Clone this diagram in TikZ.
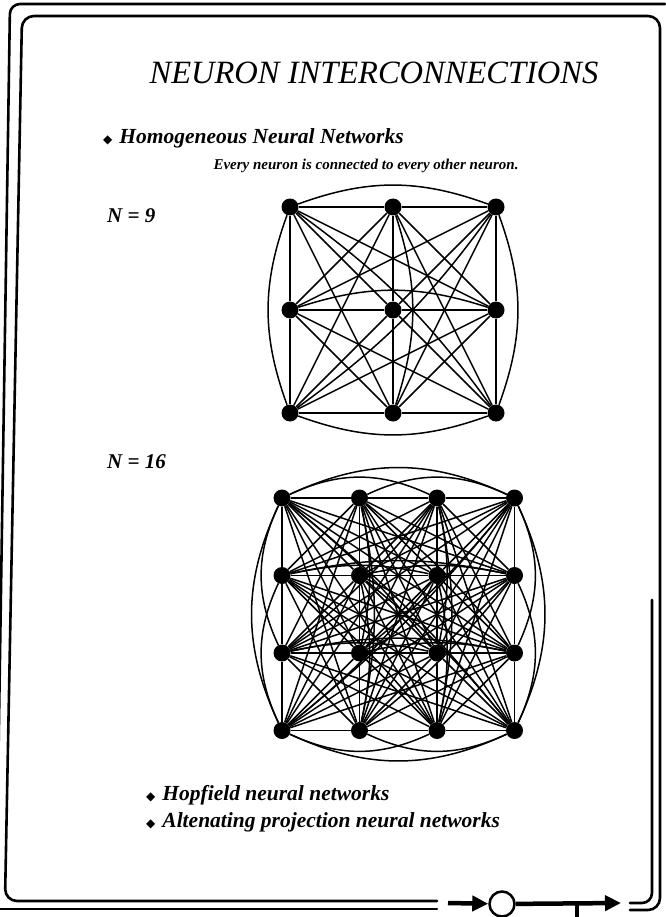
\documentclass[tikz,border=0pt]{standalone}
\usepackage{fontspec}
\setmainfont{Liberation Serif}
\newfontfamily\bulletfont{DejaVu Sans}
\usetikzlibrary{arrows.meta}

\tikzset{
  neuron/.style={circle, fill=black, inner sep=0pt, minimum size=17pt},
  synapse/.style={line width=1.5pt, draw=black},
  framepath/.style={line width=2.6pt, draw=black, line cap=round},
  headline/.style={font=\fontsize{32.5}{36}\selectfont\itshape},
  pointtext/.style={anchor=west, inner sep=0pt, font=\fontsize{21.5}{24}\selectfont\bfseries\itshape},
  subtext/.style={inner sep=0pt, font=\fontsize{15}{17}\selectfont\bfseries\itshape},
  sizetext/.style={anchor=west, inner sep=0pt, font=\fontsize{21}{24}\selectfont\bfseries\itshape},
  bus/.style={line width=4.5pt, -{Triangle[length=16pt,width=15pt]}},
  ring/.style={circle, draw=black, line width=2.5pt, fill=white, inner sep=0pt, minimum size=25pt}
}

\newcommand{\bul}{{\bulletfont\fontsize{12}{12}\selectfont ◆}\hspace{7pt}}

% fully connected grid of neurons
% #1 prefix, #2 grid size, #3/#4 top-left neuron, #5 spacing, #6 rim bend, #7 inner bend
\newcommand{\fullnet}[7]{%
  \pgfmathtruncatemacro{\nlast}{#2-1}
  \pgfmathtruncatemacro{\nmax}{#2*#2-1}
  \foreach \r in {0,...,\nlast}{
    \foreach \c in {0,...,\nlast}{
      \node[neuron] (#1-\r-\c) at ({#3+\c*#5},{#4-\r*#5}) {};
    }
  }
  \foreach \p in {0,...,\nmax}{
    \foreach \q in {0,...,\nmax}{
      \ifnum\q>\p\relax
        \pgfmathtruncatemacro{\ca}{mod(\p,#2)}
        \pgfmathtruncatemacro{\ra}{round((\p-\ca)/#2)}
        \pgfmathtruncatemacro{\cb}{mod(\q,#2)}
        \pgfmathtruncatemacro{\rb}{round((\q-\cb)/#2)}
        \pgfmathtruncatemacro{\dx}{abs(\cb-\ca)}
        \pgfmathtruncatemacro{\dy}{\rb-\ra}
        \pgfmathtruncatemacro{\coll}{(max(\dx,\dy)>1)&&((\dx==0)||(\dy==0)||(\dx==\dy))}
        \ifnum\coll=1\relax
          \pgfmathtruncatemacro{\rim}{((\dy==0)&&((\ra==0)||(\ra==\nlast)))||((\dx==0)&&((\ca==0)||(\ca==\nlast)))}
          \pgfmathtruncatemacro{\flip}{((\dy==0)&&(\ra==\nlast))||((\dx==0)&&(\ca==0))}
          \pgfmathsetmacro{\bend}{(\rim==1 ? #6 : (\dx==\dy ? #7/2 : #7))*(\flip==1 ? -1 : 1)}
          \draw[synapse] (#1-\ra-\ca) to[bend left=\bend] (#1-\rb-\cb);
        \else
          \draw[synapse] (#1-\ra-\ca) -- (#1-\rb-\cb);
        \fi
      \fi
    }
  }
}

\begin{document}
\begin{tikzpicture}[x=1pt, y=1pt]
  \useasboundingbox (0,0) rectangle (665,-917);

  % slide frame (slightly skewed like the scan)
  \draw[framepath, rounded corners=10pt] (665,-4) -- (10,-4) -- (-4,-917);
  \draw[framepath, rounded corners=12pt] (437,-901) -- (5,-901) -- (22,-16) -- (660,-16) -- (660,-910) -- (630,-910);
  \draw[framepath] (0,-909) -- (437,-909);
  \draw[framepath, rounded corners=10pt] (652,-600) -- (652,-903) -- (630,-903);

  % texts
  \node[headline] (title) at (374,-73) {NEURON INTERCONNECTIONS};
  \node[pointtext] (homog) at (103,-138) {\bul Homogeneous Neural Networks};
  \node[subtext] (every) at (366,-166) {Every neuron is connected to every other neuron.};
  \node[sizetext] (nine) at (107,-216) {\textit{N} = 9};
  \node[sizetext] (sixteen) at (107,-462) {\textit{N} = 16};
  \node[pointtext] (hopf) at (146,-795) {\bul Hopfield neural networks};
  \node[pointtext] (alter) at (146,-822) {\bul Altenating projection neural networks};

  % N = 9 network
  \fullnet{a}{3}{290}{-207}{103}{20}{18}

  % N = 16 network
  \fullnet{b}{4}{282}{-498}{77.5}{25}{12}

  % logo at the bottom
  \node[ring] (ring) at (502,-904) {};
  \coordinate (busin) at (448,-903);
  \coordinate (busout) at (621,-903);
  \coordinate (tick) at (577,-903);
  \coordinate (tickend) at (577,-917);
  \draw[bus] (busin) -- (ring);
  \draw[bus] (ring) -- (busout);
  \draw[line width=4.5pt] (tick) -- (tickend);
\end{tikzpicture}
\end{document}
